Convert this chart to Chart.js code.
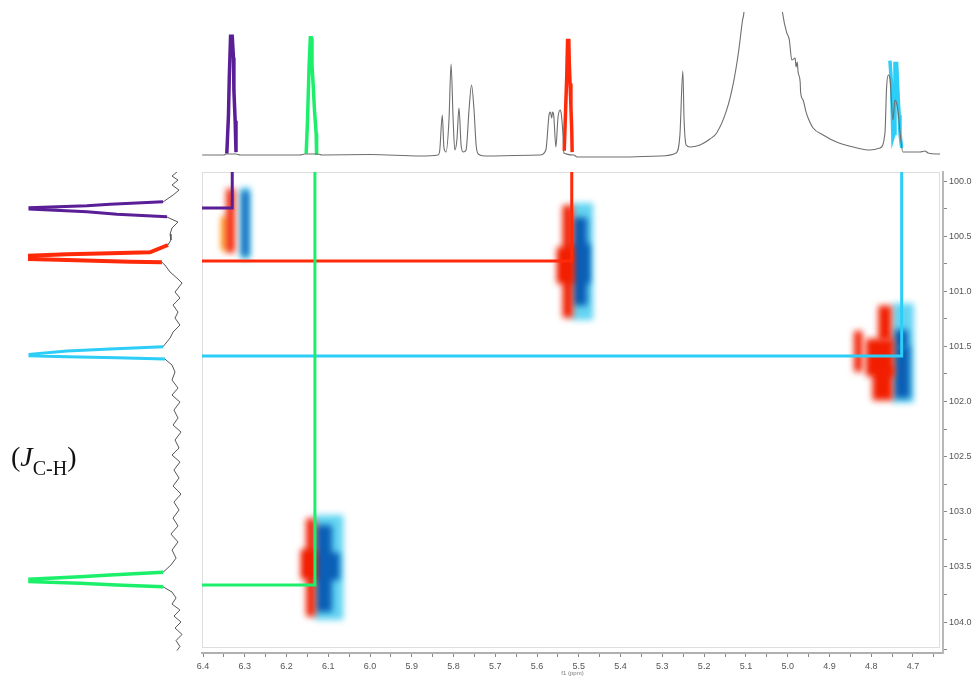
<!DOCTYPE html>
<html>
<head>
<meta charset="utf-8">
<script src="https://cdn.jsdelivr.net/npm/chart.js@4.4.1/dist/chart.umd.min.js"></script>
<style>
  body { margin: 0; background: #fff; }
  #wrap { position: relative; width: 978px; height: 677px; overflow: hidden; }
  canvas { position: absolute; left: 0; top: 0; }
  #jlabel { position: absolute; left: 11px; top: 443px; font-family: 'Liberation Serif', serif; font-size: 28px; line-height: 28px; color: #111; }
  #jlabel span { font-size: 20px; position: relative; top: 9px; }
</style>
</head>
<body>
<div id="wrap">
  <canvas id="topChart" width="978" height="677"></canvas>
  <canvas id="sideChart" width="978" height="677"></canvas>
  <canvas id="mainChart" width="978" height="677"></canvas>
  <div id="jlabel">(<i>J</i><span>C-H</span>)</div>
</div>
<script>
// ---- axes ranges (ppm) ----
const f2Min = 4.628, f2Max = 6.4024;     // 1H, horizontal, reversed
const f1Min = 99.918, f1Max = 104.281;   // 13C, vertical

// ---- 1H spectrum on top (ppm / intensity) ----
const specPpm = [6.402, 6.350, 6.345, 6.321, 6.311, 6.168, 6.156, 6.125, 6.115, 6.000, 5.880, 5.837, 5.833, 5.827, 5.823,
  5.818, 5.811, 5.806, 5.801, 5.797, 5.792, 5.787, 5.782, 5.777, 5.770, 5.763, 5.757, 5.751, 5.746, 5.741, 5.725,
  5.593, 5.579, 5.571, 5.568, 5.565, 5.563, 5.560, 5.555, 5.550, 5.545, 5.542, 5.538, 5.536, 5.512, 5.504, 5.401,
  5.306, 5.267, 5.258, 5.251, 5.248, 5.243, 5.234, 5.210, 5.186, 5.170, 5.146, 5.130, 5.118, 5.108, 5.104, 5.059,
  5.014, 5.012, 5.002, 4.998, 4.996, 4.990, 4.982, 4.980, 4.977, 4.975, 4.970, 4.969, 4.963, 4.956, 4.951, 4.939,
  4.915, 4.883, 4.843, 4.803, 4.779, 4.767, 4.763, 4.759, 4.755, 4.748, 4.743, 4.736, 4.729, 4.724, 4.715, 4.683,
  4.671, 4.664, 4.643, 4.635];
const specInt = [0, 0, 0.007, 0.007, 0, 0, 0.007, 0.007, 0, 0.003, -0.007, 0, 0.035, 0.28, 0.049,
  0.021, 0.245, 0.636, 0.245, 0.035, 0.105, 0.329, 0.07, 0.021, 0.035, 0.315, 0.49, 0.315, 0.07, 0.007, -0.007,
  0, 0.035, 0.287, 0.301, 0.259, 0.301, 0.273, 0.056, 0.259, 0.315, 0.287, 0.14, 0.014, 0, -0.014, -0.014,
  -0.007, 0.014, 0.14, 0.587, 0.245, 0.07, 0.056, 0.07, 0.112, 0.154, 0.315, 0.503, 0.713, 0.944, 1.03, 6,
  1.05, 0.991, 0.853, 0.827, 0.804, 0.664, 0.678, 0.615, 0.65, 0.58, 0.51, 0.441, 0.385, 0.301, 0.259, 0.189,
  0.14, 0.091, 0.056, 0.035, 0.049, 0.154, 0.476, 0.559, 0.538, 0.245, 0.385, 0.315, 0.105, 0.021, 0.021, 0.021,
  0.028, 0.014, 0.007, 0.007];

// highlighted multiplets on the 1H trace
const purplePpm = [6.343, 6.339, 6.337, 6.334, 6.330, 6.327, 6.326, 6.323, 6.321];
const purpleInt = [0.01, 0.28, 0.55, 0.83, 0.83, 0.68, 0.45, 0.24, 0.02];
const greenPpm = [6.153, 6.150, 6.148, 6.146, 6.143, 6.141, 6.139, 6.136, 6.133, 6.129, 6.128];
const greenInt = [0.01, 0.22, 0.42, 0.62, 0.82, 0.82, 0.63, 0.48, 0.31, 0.15, 0];
const redPpm = [5.535, 5.532, 5.529, 5.527, 5.524, 5.523, 5.521, 5.519, 5.517, 5.516];
const redInt = [0.03, 0.29, 0.55, 0.80, 0.80, 0.65, 0.50, 0.34, 0.17, 0.02];
const cyanPpm = [4.755, 4.751, 4.748, 4.745, 4.743, 4.739, 4.735, 4.733, 4.731, 4.727];
const cyanInt = [0.66, 0.48, 0.12, 0.15, 0.64, 0.64, 0.38, 0.28, 0.15, 0.05];

// ---- 13C projection on the left (ppm / intensity), null = gap ----
const projF1 = [99.918, 99.955, 99.991, 100.036, 100.082, 100.127, 100.19, null,
  100.327, 100.372, 100.426, 100.481, 100.535, 100.580, null,
  100.737, 100.762, 100.825, 100.880, 100.925, 101.007, 101.061, 101.125, 101.188, 101.243, 101.306, 101.370, 101.424, 101.503, null,
  101.615, 101.669, 101.732, 101.805, 101.878, 101.941, 102.005, 102.077, 102.150, 102.213, 102.277, 102.349, 102.422, 102.485,
  102.549, 102.621, 102.694, 102.766, 102.839, 102.912, 102.984, 103.057, 103.129, 103.202, 103.274, 103.347, 103.420, 103.483, 103.549, null,
  103.680, 103.728, 103.782, 103.837, 103.891, 103.946, 104.000, 104.054, 104.113, 104.168, 104.222, 104.259];
const projInt = [-0.013, 0.02, -0.02, 0.02, -0.027, 0.013, 0.08, null,
  0.053, -0.02, 0.02, 0.033, 0.027, 0.047, null,
  0.087, 0.067, 0.033, -0.013, -0.047, 0, -0.033, 0.013, -0.02, 0, -0.033, 0.013, 0.033, 0.08, null,
  0.067, 0.02, 0, 0.02, -0.02, 0.02, -0.033, 0.007, -0.02, 0.013, -0.04, 0, -0.027, 0.02,
  -0.033, 0.007, -0.027, 0.013, -0.04, 0.007, -0.027, 0.013, -0.02, 0.027, -0.02, 0.02, -0.007, 0.027, 0.08, null,
  0.08, 0.02, -0.007, 0.02, -0.033, 0.007, -0.04, 0, -0.047, -0.007, -0.033, -0.013];

const projPurpleF1 = [100.188, 100.211, 100.224, 100.242, 100.254, 100.278, 100.302, 100.324];
const projPurpleInt = [0.08, 0.433, 0.587, 0.967, 0.967, 0.587, 0.387, 0.053];
const projRedF1 = [100.580, 100.647, 100.656, 100.665, 100.678, 100.707, 100.717, 100.732, 100.737];
const projRedInt = [0.047, 0.167, 0.433, 0.72, 0.967, 0.967, 0.72, 0.3, 0.087];
const projCyanF1 = [101.503, 101.524, 101.542, 101.572, 101.585, 101.594, 101.603, 101.615];
const projCyanInt = [0.08, 0.433, 0.72, 0.967, 0.967, 0.72, 0.387, 0.067];
const projGreenF1 = [103.549, 103.574, 103.589, 103.612, 103.634, 103.649, 103.664, 103.680];
const projGreenInt = [0.08, 0.433, 0.633, 0.967, 0.967, 0.633, 0.387, 0.08];

// ---- HSQC correlations (f2 1H ppm, f1 13C ppm) ----
const corrNames = ['purple', 'green', 'red', 'cyan'];
const corrF2 = [6.330, 6.132, 5.517, 4.727];
const corrF1 = [100.245, 103.664, 100.726, 101.587];

// cross-peak contours as [f2 from, f2 to, f1 from, f1 to]
const blobsCyan = [
  [6.311, 6.287, 100.06, 100.71],
  [5.517, 5.466, 100.20, 101.26],
  [4.749, 4.698, 101.11, 102.01],
  [6.133, 6.064, 103.03, 103.98]
];
const blobsBlue = [
  [6.307, 6.291, 100.09, 100.68],
  [5.514, 5.480, 100.33, 101.13],
  [5.514, 5.474, 100.57, 100.93],
  [4.745, 4.707, 101.50, 101.97],
  [4.745, 4.712, 101.35, 101.52],
  [6.130, 6.091, 103.12, 103.91],
  [6.130, 6.073, 103.37, 103.62]
];
const blobsRed = [
  [6.344, 6.324, 100.07, 100.65],
  [5.539, 5.514, 100.22, 101.24],
  [5.553, 5.514, 100.60, 100.93],
  [4.841, 4.821, 101.36, 101.73],
  [4.783, 4.751, 101.13, 101.45],
  [4.813, 4.745, 101.43, 101.77],
  [4.797, 4.748, 101.69, 101.99],
  [6.153, 6.131, 103.06, 103.95],
  [6.166, 6.131, 103.34, 103.61]
];
const blobsOrange = [
  [6.356, 6.341, 100.32, 100.63]
];

const colors = { purple: '#5a1e96', green: '#1cf06a', red: '#ff2a0a', cyan: '#2ccdf6' };

// helpers
const pairs = (xs, ys) => xs.map((v, i) => ({ x: v, y: ys[i] }));
const noChrome = { legend: { display: false }, tooltip: { enabled: false } };

// ---------- top 1H trace ----------
function topSet(xs, ys, color, w, smooth) {
  return { data: pairs(xs, ys), showLine: true, borderColor: color, borderWidth: w, pointRadius: 0,
    cubicInterpolationMode: smooth ? 'monotone' : 'default', tension: 0 };
}
new Chart(document.getElementById('topChart'), {
  type: 'scatter',
  data: { datasets: [
    topSet(specPpm, specInt, '#6e6e6e', 1.1, true),
    topSet(purplePpm, purpleInt, colors.purple, 3.5),
    topSet(greenPpm, greenInt, colors.green, 3.5),
    topSet(redPpm, redInt, colors.red, 3.5),
    topSet(cyanPpm, cyanInt, colors.cyan, 3.5)
  ] },
  options: {
    responsive: false, animation: false,
    layout: { padding: { left: 202, right: 35, top: 12, bottom: 517 } },
    plugins: noChrome,
    scales: {
      x: { type: 'linear', reverse: true, min: f2Min, max: f2Max, display: false },
      y: { type: 'linear', min: -0.035, max: 1, display: false }
    }
  }
});

// ---------- left 13C projection ----------
function sideSet(ints, ppms, color, w) {
  return { data: ints.map((v, i) => ({ x: v, y: ppms[i] })), showLine: true, spanGaps: false,
    borderColor: color, borderWidth: w, pointRadius: 0, tension: 0 };
}
new Chart(document.getElementById('sideChart'), {
  type: 'scatter',
  data: { datasets: [
    sideSet(projInt, projF1, '#555', 1),
    sideSet(projPurpleInt, projPurpleF1, colors.purple, 3),
    sideSet(projRedInt, projRedF1, colors.red, 4),
    sideSet(projCyanInt, projCyanF1, colors.cyan, 3),
    sideSet(projGreenInt, projGreenF1, colors.green, 3.5)
  ] },
  options: {
    responsive: false, animation: false,
    layout: { padding: { left: 25, right: 788, top: 172, bottom: 24 } },
    plugins: noChrome,
    scales: {
      x: { type: 'linear', reverse: true, min: -0.1, max: 1, display: false },
      y: { type: 'linear', reverse: true, min: f1Min, max: f1Max, display: false }
    }
  }
});

// ---------- main 2D map ----------
const blobLayers = [
  [blobsCyan, 'rgba(70,205,240,0.85)'],
  [blobsBlue, '#0b5fb6'],
  [blobsOrange, '#ff8c00'],
  [blobsRed, '#f21e00']
];

const contourPlugin = {
  id: 'contours',
  beforeDatasetsDraw(chart) {
    const { ctx, chartArea: a, scales: { x, y } } = chart;
    ctx.save();
    // light frame of the 2D box
    ctx.strokeStyle = '#dedede';
    ctx.lineWidth = 1;
    ctx.strokeRect(a.left + 0.5, a.top + 0.5, a.right - a.left - 4, a.bottom - a.top - 6);
    ctx.beginPath();
    ctx.rect(a.left, a.top, a.right - a.left, a.bottom - a.top);
    ctx.clip();
    ctx.filter = 'blur(3px)';
    blobLayers.forEach(([list, color]) => {
      ctx.fillStyle = color;
      list.forEach(([f2a, f2b, f1a, f1b]) => {
        const x1 = x.getPixelForValue(f2a), x2 = x.getPixelForValue(f2b);
        const y1 = y.getPixelForValue(f1a), y2 = y.getPixelForValue(f1b);
        ctx.fillRect(Math.min(x1, x2), Math.min(y1, y2), Math.abs(x2 - x1), Math.abs(y2 - y1));
      });
    });
    ctx.restore();
  }
};

// each correlation: from the left edge to the peak, then up to the top edge
const corrSets = corrNames.map((name, i) => ({
  data: [{ x: f2Max, y: corrF1[i] }, { x: corrF2[i], y: corrF1[i] }, { x: corrF2[i], y: f1Min }],
  showLine: true, borderColor: colors[name], borderWidth: 3, pointRadius: 0, tension: 0,
  borderJoinStyle: 'miter'
}));

new Chart(document.getElementById('mainChart'), {
  type: 'scatter',
  data: { datasets: corrSets },
  plugins: [contourPlugin],
  options: {
    responsive: false, animation: false,
    layout: { padding: { left: 202, top: 172, right: 0, bottom: 0 } },
    plugins: noChrome,
    scales: {
      x: {
        type: 'linear', reverse: true, min: f2Min, max: f2Max,
        afterFit: s => { s.height = 24; },
        ticks: {
          stepSize: 0.05, includeBounds: false, autoSkip: false, maxRotation: 0, padding: 4,
          color: '#555', font: { family: 'Liberation Sans', size: 9 },
          callback: v => Math.round(v * 20) % 2 === 0 ? v.toFixed(1) : ''
        },
        grid: { drawOnChartArea: false, tickLength: 4, color: '#888' },
        border: { color: '#b0b0b0', width: 2 },
        title: { display: true, text: 'f1 (ppm)', color: '#777', padding: 0, font: { family: 'Liberation Sans', size: 6 } }
      },
      y: {
        type: 'linear', position: 'right', reverse: true, min: f1Min, max: f1Max,
        afterFit: s => { s.width = 35; },
        ticks: {
          stepSize: 0.25, includeBounds: false, autoSkip: false, padding: 2,
          color: '#555', font: { family: 'Liberation Sans', size: 9 },
          callback: v => Math.round(v * 4) % 2 === 0 ? v.toFixed(1) : ''
        },
        grid: { drawOnChartArea: false, tickLength: 4, color: '#888' },
        border: { color: '#b8b8b8', width: 2 }
      }
    }
  }
});
</script>
</body>
</html>
